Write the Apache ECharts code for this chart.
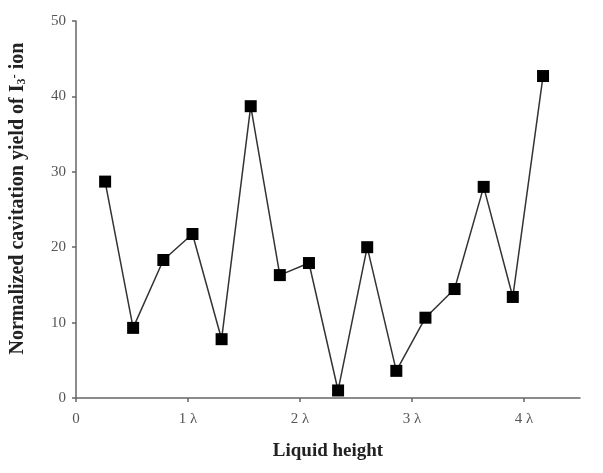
<!DOCTYPE html>
<html>
<head>
<meta charset="utf-8">
<script src="https://cdn.jsdelivr.net/npm/echarts@6/dist/echarts.min.js"></script>
<style>
html, body {margin: 0; padding: 0; background: #fff;}
#chart {width: 603px; height: 473px;}
</style>
</head>
<body>
<div id="chart"></div>
<script>
// liquid height in units of lambda
var heights = [0.26, 0.51, 0.78, 1.04, 1.30, 1.56, 1.82, 2.08, 2.34, 2.60, 2.86, 3.12, 3.38, 3.64, 3.90, 4.17];
var yields = [28.7, 9.3, 18.3, 21.75, 7.8, 38.7, 16.3, 17.9, 1.0, 20.0, 3.6, 10.65, 14.45, 28.0, 13.4, 42.7];
var x_ticks = {0: '0', 1: '1 \u03bb', 2: '2 \u03bb', 3: '3 \u03bb', 4: '4 \u03bb'};

var serif = '"Liberation Serif", "DejaVu Serif", serif';
var axis_line = {show: true, lineStyle: {color: '#666', width: 1.5}};
var axis_tick = {show: true, inside: false, length: 4, lineStyle: {color: '#666', width: 1.5}};

var chart = echarts.init(document.getElementById('chart'));
chart.setOption({
    animation: false,
    backgroundColor: '#fff',
    grid: {left: 76, right: 23, top: 21, bottom: 75, containLabel: false},
    xAxis: {
        type: 'value',
        min: 0, max: 4.5, interval: 1,
        name: 'Liquid height',
        nameLocation: 'middle',
        nameGap: 44,
        nameTextStyle: {fontFamily: serif, fontWeight: 'bold', fontSize: 19, color: '#222'},
        axisLine: axis_line,
        axisTick: axis_tick,
        splitLine: {show: false},
        axisLabel: {
            fontFamily: serif, fontSize: 15, color: '#555', margin: 14,
            showMaxLabel: false,
            formatter: function (v) {return x_ticks[v] !== undefined ? x_ticks[v] : '';}
        }
    },
    yAxis: {
        type: 'value',
        min: 0, max: 50, interval: 10,
        name: '{a|Normalized cavitation yield of I}{sub|3}{sup|-}{a| ion}',
        nameLocation: 'middle',
        nameGap: 48,
        nameTextStyle: {
            fontFamily: serif, fontWeight: 'bold', fontSize: 20, color: '#222',
            padding: [0, 0, 0, 22],
            rich: {
                a: {fontFamily: serif, fontWeight: 'bold', fontSize: 20, color: '#222'},
                sub: {fontFamily: serif, fontWeight: 'bold', fontSize: 12, color: '#222', verticalAlign: 'bottom', padding: [7, 0, 0, 0]},
                sup: {fontFamily: serif, fontWeight: 'bold', fontSize: 13, color: '#222', verticalAlign: 'top', padding: [0, 0, 7, 0]}
            }
        },
        axisLine: axis_line,
        axisTick: axis_tick,
        splitLine: {show: false},
        axisLabel: {fontFamily: serif, fontSize: 15, color: '#555', margin: 10}
    },
    series: [{
        type: 'line',
        data: heights.map(function (h, i) {return [h, yields[i]];}),
        symbol: 'rect',
        symbolSize: 12,
        itemStyle: {color: '#000'},
        lineStyle: {color: '#333', width: 1.5},
        z: 3
    }]
});
</script>
</body>
</html>
